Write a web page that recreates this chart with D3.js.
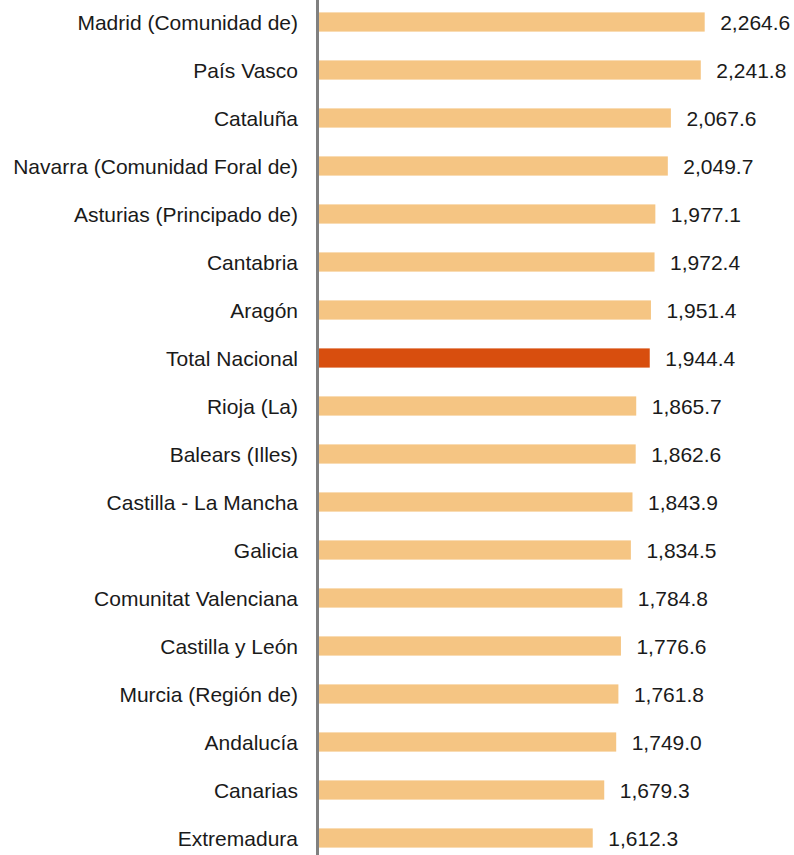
<!DOCTYPE html>
<html>
<head>
<meta charset="utf-8">
<script src="https://cdn.jsdelivr.net/npm/d3@7"></script>
<style>
  body { margin: 0; background: #fff; }
  text { font-family: "Liberation Sans", Arial, sans-serif; fill: #1a1a1a; }
</style>
</head>
<body>
<div id="chart"></div>
<script>
// data
var regions = ["Madrid (Comunidad de)", "País Vasco", "Cataluña", "Navarra (Comunidad Foral de)",
  "Asturias (Principado de)", "Cantabria", "Aragón", "Total Nacional", "Rioja (La)",
  "Balears (Illes)", "Castilla - La Mancha", "Galicia", "Comunitat Valenciana",
  "Castilla y León", "Murcia (Región de)", "Andalucía", "Canarias", "Extremadura"];
var values = [2264.6, 2241.8, 2067.6, 2049.7, 1977.1, 1972.4, 1951.4, 1944.4, 1865.7,
  1862.6, 1843.9, 1834.5, 1784.8, 1776.6, 1761.8, 1749.0, 1679.3, 1612.3];
var highlight = "Total Nacional";

var width = 794, height = 855;

var svg = d3.select("#chart").append("svg")
  .attr("width", width)
  .attr("height", height);

var data = regions.map(function(r, i) { return {name: r, value: values[i]}; });

var x = d3.scaleLinear().domain([0, 2264.6]).range([316, 704.7]);
var y = d3.scaleBand().domain(regions).range([-2, 862]).paddingInner(0.6).paddingOuter(0.3);

var fmt = d3.format(",.1f");

svg.selectAll(".bar")
  .data(data)
  .enter().append("rect")
  .attr("class", "bar")
  .attr("x", x(0))
  .attr("y", function(d) { return y(d.name); })
  .attr("width", function(d) { return x(d.value) - x(0); })
  .attr("height", y.bandwidth())
  .style("fill", function(d) { return d.name == highlight ? "#D84E0E" : "#F5C583"; });

svg.selectAll(".val")
  .data(data)
  .enter().append("text")
  .attr("class", "val")
  .attr("x", function(d) { return x(d.value) + 15.5; })
  .attr("y", function(d) { return y(d.name) + y.bandwidth() / 2; })
  .attr("dy", "0.36em")
  .style("font-size", "21px")
  .text(function(d) { return fmt(d.value); });

svg.selectAll(".cat")
  .data(data)
  .enter().append("text")
  .attr("class", "cat")
  .attr("x", 298)
  .attr("y", function(d) { return y(d.name) + y.bandwidth() / 2; })
  .attr("dy", "0.36em")
  .attr("text-anchor", "end")
  .style("font-size", "21px")
  .text(function(d) { return d.name; });

// vertical axis line
svg.append("line")
  .attr("x1", 317.5).attr("x2", 317.5)
  .attr("y1", 0).attr("y2", height)
  .style("stroke", "#808080")
  .style("stroke-width", 3);
</script>
</body>
</html>
